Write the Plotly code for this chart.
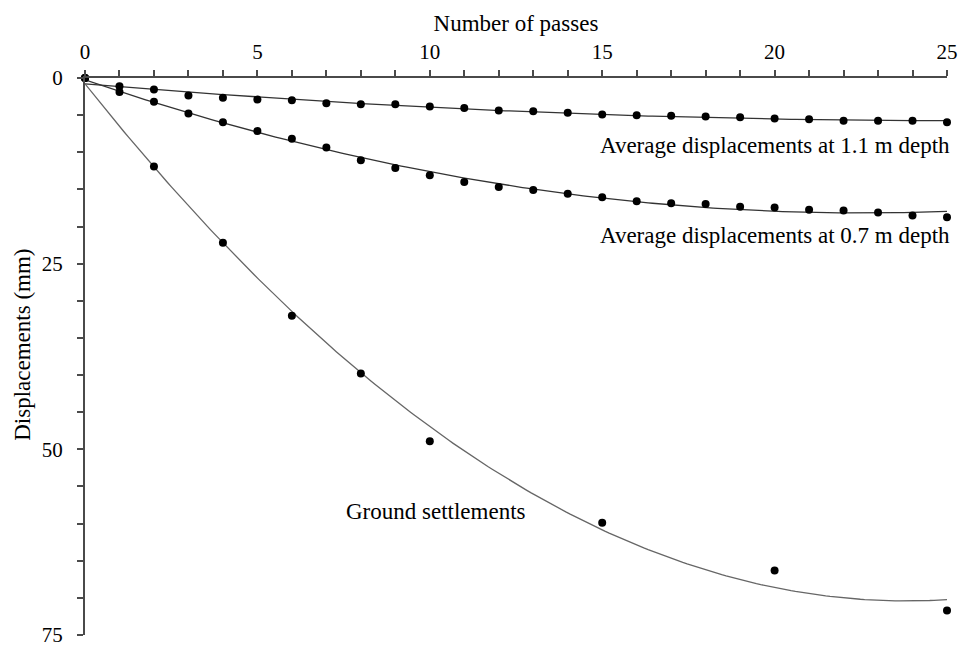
import numpy as np
import plotly.graph_objects as go

# ---- data ----
passes = list(range(0, 26))
disp_11m = [0, 1.1, 1.56, 2.34, 2.67, 2.88, 3.0, 3.4, 3.52, 3.52, 3.83, 4.03, 4.36,
            4.48, 4.68, 4.9, 5.0, 5.08, 5.2, 5.3, 5.44, 5.57, 5.75, 5.75, 5.75, 5.97]
disp_07m = [0, 1.88, 3.2, 4.77, 5.97, 7.14, 8.18, 9.37, 11.06, 12.13, 13.1, 14.0, 14.67,
            15.08, 15.6, 16.06, 16.6, 16.87, 16.95, 17.35, 17.44, 17.75, 17.84, 18.1, 18.5, 18.74]
ground_passes = [0, 2, 4, 6, 8, 10, 15, 20, 25]
ground_settle = [0, 11.9, 22.2, 32.0, 39.8, 48.9, 59.9, 66.3, 71.7]

x_tick_positions = list(range(0, 26))          # tick marks every pass
x_tick_labels = [0, 5, 10, 15, 20, 25]         # labelled ticks
y_tick_positions = list(range(0, 76, 5))       # tick marks every 5 mm
y_tick_labels = [0, 25, 50, 75]                # labelled ticks

labels = ["Average displacements at 1.1 m depth",
          "Average displacements at 0.7 m depth",
          "Ground settlements"]
x_title = "Number of passes"
y_title = "Displacements (mm)"

FONT = "Liberation Serif"
LINE_COL = "#4a4a4a"

fig = go.Figure()

def trend(xs, ys, order):
    c = np.polyfit(xs, ys, order)
    xx = np.linspace(min(xs), max(xs), 200)
    return xx, np.polyval(c, xx)

for xs, ys, order, col in [(passes, disp_11m, 2, "#333333"),
                            (passes, disp_07m, 2, "#333333"),
                            (ground_passes, ground_settle, 2, "#666666")]:
    tx, ty = trend(xs, ys, order)
    fig.add_trace(go.Scatter(x=tx, y=ty, mode="lines",
                             line=dict(color=col, width=1.3),
                             hoverinfo="skip", showlegend=False, cliponaxis=False))

for xs, ys in [(passes, disp_11m), (passes, disp_07m), (ground_passes, ground_settle)]:
    fig.add_trace(go.Scatter(x=xs, y=ys, mode="markers",
                             marker=dict(color="black", size=8),
                             showlegend=False, cliponaxis=False))

tfont = dict(family=FONT, size=23, color="black")
fig.add_annotation(x=1.006, y=9.1, xref="paper", yref="y", text=labels[0], showarrow=False,
                   xanchor="right", yanchor="middle", font=tfont)
fig.add_annotation(x=1.006, y=21.2, xref="paper", yref="y", text=labels[1], showarrow=False,
                   xanchor="right", yanchor="middle", font=tfont)
fig.add_annotation(x=10.19, y=58.4, xref="x", yref="y", text=labels[2], showarrow=False,
                   xanchor="center", yanchor="middle", font=tfont)
fig.add_annotation(x=-0.072, y=0.521, xref="paper", yref="paper", text=y_title, showarrow=False,
                   textangle=-90, xanchor="center", yanchor="middle", font=tfont)

fig.update_layout(
    width=960, height=648,
    margin=dict(l=85, r=13, t=78, b=13),
    paper_bgcolor="white", plot_bgcolor="white",
    font=dict(family=FONT, color="black", size=21),
    showlegend=False,
)
fig.update_xaxes(
    side="top", range=[0, 25], tickmode="array", tickvals=x_tick_positions,
    ticktext=[str(v) if v in x_tick_labels else "" for v in x_tick_positions],
    ticks="outside", ticklen=6, tickwidth=1.5, tickcolor=LINE_COL,
    showline=True, linecolor=LINE_COL, linewidth=2, showgrid=False, zeroline=False,
    tickfont=dict(family=FONT, size=21, color="black"), ticklabelstandoff=3,
    ticklabeloverflow="allow", automargin=False,
    title=dict(text=x_title, font=tfont, standoff=2),
)
fig.update_yaxes(
    range=[75, 0], tickmode="array", tickvals=y_tick_positions,
    ticktext=[str(v) if v in y_tick_labels else "" for v in y_tick_positions],
    ticks="outside", ticklen=6, tickwidth=1.5, tickcolor=LINE_COL,
    showline=True, linecolor=LINE_COL, linewidth=2, showgrid=False, zeroline=False,
    tickfont=dict(family=FONT, size=21, color="black"), ticklabelstandoff=10,
    ticklabeloverflow="allow", automargin=False,
)

fig.write_html("out.html")
